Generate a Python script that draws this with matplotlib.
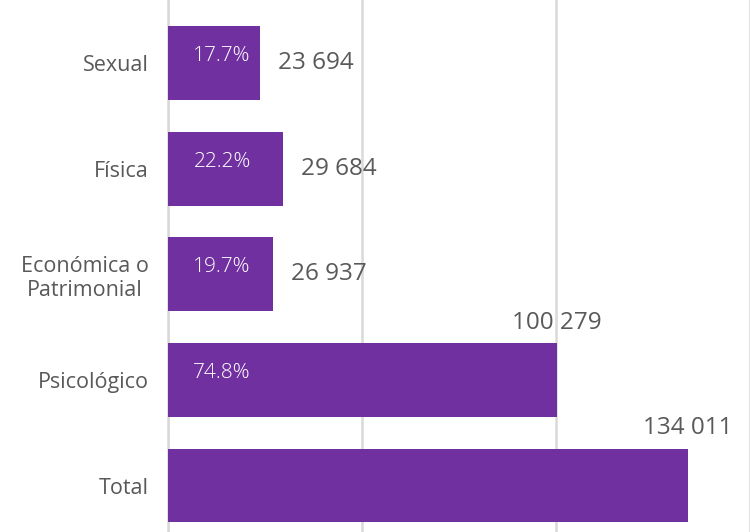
import matplotlib
matplotlib.use("Agg")
import matplotlib.pyplot as plt

categories = ["Sexual", "Física", "Económica o\nPatrimonial", "Psicológico", "Total"]
values = [23694, 29684, 26937, 100279, 134011]
value_labels = ["23 694", "29 684", "26 937", "100 279", "134 011"]
pct_labels = ["17.7%", "22.2%", "19.7%", "74.8%", ""]

BAR = "#7030A0"
TXT = "#595959"
GRID = "#D9D9D9"

plt.rcParams["font.family"] = ["Open Sans", "DejaVu Sans"]

fig = plt.figure(figsize=(7.5, 5.32), dpi=100)
ax = fig.add_axes([168 / 750, 0, 582 / 750, 1])

ypos = list(range(len(categories)))
ax.barh(ypos, values, height=0.70, color=BAR, zorder=3)

ax.set_xlim(0, 147700)
ax.set_ylim(4.44, -0.597)
ax.set_xticks([0, 50000, 100000, 150000])
ax.xaxis.grid(True, color=GRID, linewidth=1.8, zorder=0)
ax.tick_params(axis="x", length=0, labelbottom=False)
ax.tick_params(axis="y", length=0, pad=14, labelsize=15.5, labelcolor=TXT)
ax.set_yticks(ypos)
ax.set_yticklabels(categories)
for lab in ax.get_yticklabels():
    lab.set_multialignment("center")
for s in ["top", "right", "bottom"]:
    ax.spines[s].set_visible(False)
ax.spines["left"].set_color(GRID)
ax.spines["left"].set_linewidth(1.8)

# value labels: beside short bars, above long ones
for i, (v, lab) in enumerate(zip(values, value_labels)):
    if v > 60000:
        ax.annotate(lab, (v, i - 0.35), xytext=(0, 6), textcoords="offset points",
                    ha="center", va="bottom", fontsize=17.5, color=TXT)
    else:
        ax.annotate(lab, (v, i), xytext=(13, 0), textcoords="offset points",
                    ha="left", va="center", fontsize=17.5, color=TXT)

# percent labels inside bars
for i, p in enumerate(pct_labels):
    if p:
        ax.annotate(p, (0, i), xytext=(39, 5), textcoords="offset points",
                    ha="center", va="center", fontsize=15, color="white",
                    fontweight="light")

fig.savefig("out.png", dpi=100)
